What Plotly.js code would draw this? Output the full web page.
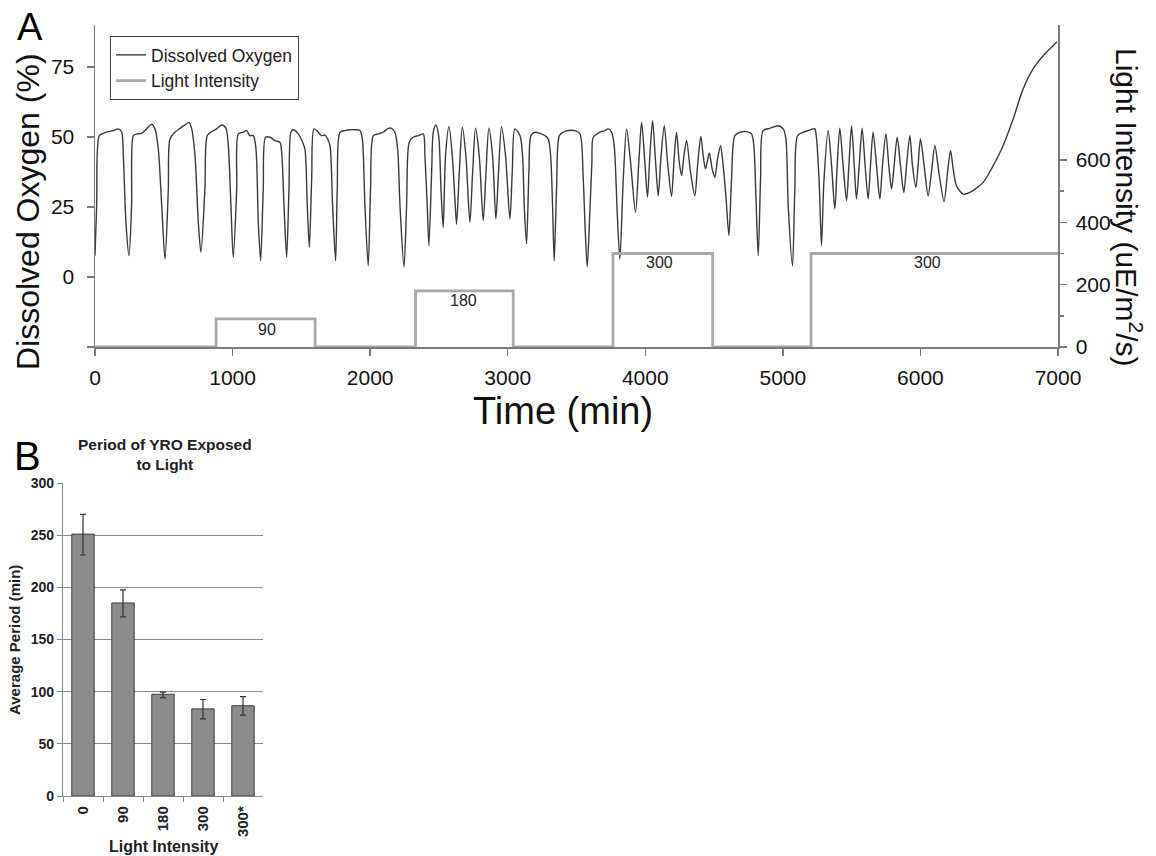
<!DOCTYPE html>
<html>
<head>
<meta charset="utf-8">
<script src="https://cdn.plot.ly/plotly-3.0.1.min.js"></script>
<style>
  html, body { margin: 0; padding: 0; background: #fff; }
  #chart { width: 1156px; height: 856px; }
</style>
</head>
<body>
<div id="chart"></div>
<script>
// ---------- Panel A data ----------
const timeMin = [
  0, 12, 31, 61, 97, 133, 170, 194, 206, 225, 247,
  266, 279, 303, 339, 375, 412, 436, 460, 485, 509,
  533, 545, 581, 618, 654, 683, 703, 727, 751, 770,
  799, 816, 848, 884, 921, 952, 969, 988, 1005,
  1030, 1042, 1078, 1102, 1126, 1151, 1170, 1187, 1204,
  1223, 1240, 1272, 1308, 1344, 1357, 1374, 1393,
  1410, 1424, 1441, 1478, 1509, 1526, 1543, 1558,
  1575, 1592, 1623, 1647, 1672, 1691, 1708, 1727, 1749,
  1761, 1781, 1817, 1853, 1890, 1926, 1943, 1962, 1986,
  2003, 2023, 2059, 2095, 2132, 2156, 2180, 2200, 2217, 2246,
  2265, 2284, 2313, 2350, 2386, 2398, 2415, 2427,
  2447, 2459, 2478, 2498, 2515, 2531,
  2548, 2573, 2597, 2616, 2628,
  2648, 2670, 2696, 2725,
  2745, 2766, 2793, 2822,
  2842, 2863, 2890, 2914,
  2933, 2955, 2984, 3016,
  3033, 3052, 3089, 3108, 3120, 3137,
  3154, 3169, 3198, 3234, 3271, 3295, 3312, 3326, 3338,
  3355, 3375, 3404, 3440, 3489, 3525, 3549, 3563, 3578,
  3597, 3612, 3622, 3671, 3707, 3731, 3755, 3774, 3796, 3815,
  3840, 3864, 3893, 3929,
  3953, 3973, 3997, 4016,
  4033, 4053, 4075, 4094,
  4113, 4138, 4162, 4191,
  4208, 4227, 4247, 4264,
  4281, 4300, 4329, 4360,
  4380, 4404, 4421, 4438,
  4465, 4486, 4506,
  4525, 4547, 4566, 4586, 4608,
  4627, 4651, 4688, 4736, 4772, 4789, 4804, 4821,
  4838, 4857, 4906, 4966, 5003, 5022, 5039, 5070,
  5087, 5107, 5148, 5184, 5221, 5233, 5245, 5264, 5281,
  5298, 5329, 5354, 5378,
  5395, 5414, 5438, 5463,
  5480, 5499, 5519, 5535,
  5555, 5576, 5598, 5620,
  5637, 5656, 5681, 5705,
  5724, 5749, 5770, 5790,
  5809, 5831, 5855, 5879,
  5899, 5923, 5942, 5967,
  5983, 6000, 6027, 6056,
  6080, 6105, 6134, 6172,
  6197, 6219, 6238, 6262, 6311, 6359, 6456, 6529, 6601,
  6674, 6746, 6819, 6892, 6964, 6993
];
const dissolvedOxygen = [
  7.6, 25.5, 50.5, 51.3, 51.9, 52.3, 52.9, 51.7, 43.3, 19.5, 7.6,
  25.5, 50.5, 51.1, 51.3, 52.9, 54.6, 52.9, 45.7, 25.5, 6.4,
  31.4, 49.3, 51.7, 53.1, 54.3, 55.2, 52.9, 43.3, 19.5, 8.8,
  31.4, 50.5, 51.9, 52.9, 54.3, 53.1, 46.9, 25.5, 7.0,
  31.4, 51.1, 51.7, 52.3, 50.5, 50.5, 45.7, 19.5, 5.8,
  31.4, 49.9, 49.9, 48.7, 48.1, 44.5, 25.5, 7.0,
  31.4, 51.7, 52.6, 51.1, 48.1, 45.7, 25.5, 10.6,
  35.0, 52.9, 51.7, 50.5, 50.7, 49.3, 46.9, 25.5, 5.8,
  31.4, 51.7, 52.3, 52.6, 52.6, 52.3, 49.3, 25.5, 4.0,
  31.4, 50.5, 51.1, 51.7, 53.1, 53.1, 51.7, 45.7, 25.5, 3.5,
  25.5, 48.1, 49.9, 50.5, 51.1, 43.3, 25.5, 11.2,
  37.4, 51.7, 54.3, 50.5, 31.4, 17.7,
  43.3, 53.8, 43.3, 27.9, 18.9,
  37.4, 53.5, 43.3, 19.5,
  37.4, 53.1, 43.3, 20.1,
  37.4, 53.1, 43.3, 20.7,
  37.4, 53.8, 43.3, 20.7,
  37.4, 52.9, 50.5, 43.3, 25.5, 11.8,
  37.4, 50.5, 51.7, 51.3, 50.5, 49.3, 43.3, 25.5, 5.8,
  31.4, 50.5, 51.7, 52.3, 52.3, 51.1, 35.0, 17.1, 3.7,
  23.1, 41.0, 49.9, 51.7, 52.3, 52.9, 51.7, 46.9, 23.1, 6.4,
  35.0, 52.9, 41.0, 23.1,
  41.0, 55.2, 41.0, 28.5,
  43.3, 55.8, 41.0, 29.0,
  42.1, 54.0, 41.0, 28.8,
  41.0, 51.7, 41.0, 36.2,
  43.3, 48.7, 37.4, 29.0,
  39.8, 50.2, 43.3, 38.6,
  44.3, 38.6, 35.6,
  42.1, 46.9, 39.8, 29.0, 14.8,
  35.0, 50.5, 51.7, 51.9, 51.1, 46.9, 29.0, 7.6,
  35.0, 52.3, 53.1, 54.0, 52.9, 49.3, 25.5, 4.0,
  31.4, 50.5, 51.7, 52.3, 52.9, 52.9, 49.3, 33.8, 11.2,
  33.8, 52.3, 39.8, 24.3,
  39.8, 53.1, 39.8, 27.3,
  39.8, 54.0, 39.8, 27.9,
  39.8, 53.1, 39.8, 27.9,
  39.8, 51.7, 39.8, 27.9,
  39.8, 51.1, 39.8, 31.4,
  39.8, 49.9, 39.8, 30.2,
  39.8, 50.5, 39.8, 32.0,
  39.8, 49.3, 39.8, 29.0,
  37.4, 46.9, 37.4, 26.9,
  37.4, 45.1, 38.6, 32.6, 29.6, 30.2, 33.8, 39.8, 46.9,
  56.4, 67.1, 74.3, 79.0, 82.6, 84.0
];

// Light schedule (step changes)
const lightTime = [0, 880, 1600, 2330, 3040, 3765, 4490, 5205, 7000];
const lightIntensity = [0, 90, 0, 180, 0, 300, 0, 300, 300];

// Tick labels
const timeTicks = [0, 1000, 2000, 3000, 4000, 5000, 6000, 7000];
const doTickVals = [-25, 0, 25, 50, 75];
const doTickText = ['', '0', '25', '50', '75'];
const lightTickVals = [0, 200, 400, 600];
const lightMinorVals = [100, 300, 500];

// ---------- Panel B data ----------
const barCategories = ['0', '90', '180', '300', '300*'];
const avgPeriod = [251, 185, 97.5, 83.5, 86.5];
const errPlus = [19, 12.5, 2, 9, 8.7];
const errMinus = [20, 13.4, 3.3, 9.6, 9];
const periodTicks = [0, 50, 100, 150, 200, 250, 300];

// ---------- helpers ----------
const W = 1156, H = 856;
const px = v => v / W;
const py = v => 1 - v / H;
const FONT = 'Liberation Sans, Arial, sans-serif';
const AX = '#7a7a7a';

// light labels placed on each "on" segment
const lightLabelAnn = [];
const lightLabelPos = [[1250, 55], [2682, 148], [4106, 270], [6054, 270]];
let k = 0;
for (let i = 0; i < lightIntensity.length - 1; i++) {
  if (lightIntensity[i] > 0 && k < lightLabelPos.length) {
    lightLabelAnn.push({
      xref: 'x', yref: 'y2', x: lightLabelPos[k][0], y: lightLabelPos[k][1],
      xanchor: 'center', yanchor: 'middle',
      text: String(lightIntensity[i]), showarrow: false,
      font: {family: FONT, size: 16, color: '#222'}
    });
    k++;
  }
}

function paperText(x, y, text, size, opts) {
  return Object.assign({
    xref: 'paper', yref: 'paper', x: px(x), y: py(y), text: text,
    xanchor: 'center', yanchor: 'middle', showarrow: false,
    font: {family: FONT, size: size, color: '#111'}
  }, opts || {});
}
const boldFont = size => ({family: FONT, size: size, color: '#222', weight: 'bold'});

const traces = [
  {
    x: timeMin, y: dissolvedOxygen, type: 'scatter', mode: 'lines',
    name: 'Dissolved Oxygen', xaxis: 'x', yaxis: 'y', legendgroup: 'a',
    line: {color: '#3a3a3a', width: 1.4, shape: 'spline', smoothing: 0.8}
  },
  {
    x: lightTime, y: lightIntensity, type: 'scatter', mode: 'lines',
    name: 'Light Intensity', xaxis: 'x', yaxis: 'y2', legendgroup: 'b',
    line: {color: '#a9a9a9', width: 2.8, shape: 'hv'}
  },
  {
    x: barCategories, y: avgPeriod, type: 'bar', xaxis: 'x2', yaxis: 'y3',
    showlegend: false,
    marker: {color: '#8c8c8c', line: {color: '#3c3c3c', width: 1}},
    width: 0.56,
    error_y: {type: 'data', symmetric: false, array: errPlus, arrayminus: errMinus,
              color: '#333', thickness: 1.2, width: 3}
  }
];

const layout = {
  width: W, height: H,
  margin: {l: 0, r: 0, t: 0, b: 0},
  paper_bgcolor: '#fff', plot_bgcolor: 'rgba(0,0,0,0)',
  font: {family: FONT, color: '#111'},
  showlegend: true,
  legend: {
    x: px(110), y: py(36), xanchor: 'left', yanchor: 'top',
    bordercolor: '#444', borderwidth: 1, bgcolor: '#fff',
    font: {family: FONT, size: 17.5, color: '#222'},
    itemwidth: 30, traceorder: 'grouped', tracegroupgap: 0
  },
  xaxis: {
    domain: [px(95), px(1058)], range: [0, 7000], anchor: 'y',
    tickvals: timeTicks, showgrid: false, zeroline: false,
    showline: true, linecolor: AX, linewidth: 1.5,
    ticks: 'outside', ticklen: 7, tickcolor: AX, tickwidth: 1.5,
    tickfont: {family: FONT, size: 21, color: '#111'},
    ticklabelstandoff: 4
  },
  yaxis: {
    domain: [py(347), py(25)], range: [-25, 90], anchor: 'x',
    tickvals: doTickVals, ticktext: doTickText,
    showgrid: false, zeroline: false,
    showline: true, linecolor: AX, linewidth: 1.5,
    ticks: 'outside', ticklen: 7, tickcolor: AX, tickwidth: 1.5,
    tickfont: {family: FONT, size: 21, color: '#111'},
    ticklabelstandoff: 8
  },
  yaxis2: {
    overlaying: 'y', side: 'right', anchor: 'x', range: [0, 1033],
    tickvals: lightTickVals, showgrid: false, zeroline: false,
    showline: true, linecolor: AX, linewidth: 1.5,
    ticks: 'outside', ticklen: 7, tickcolor: AX, tickwidth: 1.5,
    minor: {tickvals: lightMinorVals, ticks: 'outside', ticklen: 4, tickcolor: AX, tickwidth: 1.5, showgrid: false},
    tickfont: {family: FONT, size: 21, color: '#111'},
    ticklabelstandoff: 5
  },
  xaxis2: {
    domain: [px(63), px(263)], anchor: 'y3', type: 'category',
    showgrid: false, zeroline: false,
    showline: true, linecolor: '#888', linewidth: 1.2,
    ticks: 'outside', ticklen: 5, tickcolor: '#888', tickson: 'boundaries',
    tickangle: -90, ticklabelstandoff: 3,
    tickfont: boldFont(15)
  },
  yaxis3: {
    domain: [py(796), py(483)], anchor: 'x2', range: [0, 300],
    tickvals: periodTicks,
    showgrid: true, gridcolor: '#8a8a8a', gridwidth: 1.2, zeroline: false,
    showline: true, linecolor: '#888', linewidth: 1.2,
    ticks: 'outside', ticklen: 5, tickcolor: '#888',
    tickfont: boldFont(14)
  },
  annotations: [
    paperText(30, 27, 'A', 38, {font: {family: FONT, size: 38, color: '#000'}}),
    paperText(27, 456, 'B', 40, {font: {family: FONT, size: 40, color: '#000'}}),
    paperText(28, 212, 'Dissolved Oxygen (%)', 32, {textangle: -90}),
    paperText(1129, 207, 'Light Intensity (uE/m<sup>2</sup>/s)', 30, {textangle: 90}),
    paperText(563, 411, 'Time (min)', 38),
    paperText(165, 454, 'Period of YRO Exposed<br>to Light', 15.5, {font: boldFont(15.5)}),
    paperText(14, 640, 'Average Period (min)', 15, {textangle: -90, font: boldFont(15)}),
    paperText(163, 846, 'Light Intensity', 16, {font: boldFont(16)})
  ].concat(lightLabelAnn)
};

Plotly.newPlot('chart', traces, layout, {staticPlot: true, displayModeBar: false});
</script>
</body>
</html>
